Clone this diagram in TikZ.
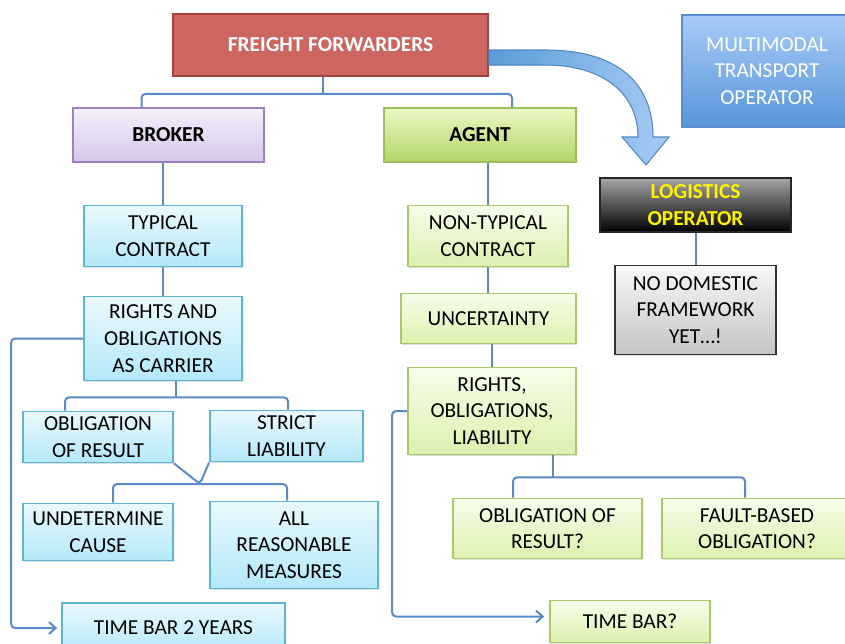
\documentclass[tikz,border=0pt]{standalone}
\usepackage{fontspec}
\setmainfont{Carlito}
\usetikzlibrary{arrows.meta,calc,shadows}

\definecolor{linkblue}{HTML}{5B8BC7}
\definecolor{ffred}{HTML}{CD6660}
\definecolor{ffredline}{HTML}{A5423E}
\definecolor{mtotop}{HTML}{A8CBF7}
\definecolor{mtobot}{HTML}{5895DA}
\definecolor{mtoline}{HTML}{5A8CCB}
\definecolor{brotop}{HTML}{F4F0FB}
\definecolor{brobot}{HTML}{D6C6EB}
\definecolor{broline}{HTML}{9C80C2}
\definecolor{agtop}{HTML}{EAF9C4}
\definecolor{agbot}{HTML}{B3D468}
\definecolor{agline}{HTML}{9DBE5C}
\definecolor{cytop}{HTML}{EAF9FD}
\definecolor{cybot}{HTML}{B3E8F8}
\definecolor{cyline}{HTML}{5BB6D3}
\definecolor{grtop}{HTML}{F7FDEA}
\definecolor{grbot}{HTML}{DCF1AE}
\definecolor{grline}{HTML}{A7C96C}
\definecolor{arrdark}{HTML}{5B9BD9}
\definecolor{arrlight}{HTML}{A6CBF4}

\begin{document}
\begin{tikzpicture}[x=0.75pt, y=-0.75pt,
  font=\fontsize{16}{20}\selectfont,
  link/.style={draw=linkblue, line width=1.5pt, rounded corners=3pt},
  tip/.style={-{Straight Barb[length=5pt,width=9pt]}},
  sz/.style 2 args={minimum width=#1*0.75pt, minimum height=#2*0.75pt},
  box/.style={line width=1.3pt, align=center, inner sep=2pt,
    drop shadow={shadow xshift=1pt, shadow yshift=-1pt, opacity=0.25}},
  redbox/.style={box, fill=ffred, draw=ffredline, text=white, font=\fontsize{16}{20}\selectfont\bfseries},
  bluebox/.style={box, top color=mtotop, bottom color=mtobot, draw=mtoline, text=white},
  purplebox/.style={box, top color=brotop, bottom color=brobot, draw=broline, font=\fontsize{16}{20}\selectfont\bfseries},
  agentbox/.style={box, top color=agtop, bottom color=agbot, draw=agline, font=\fontsize{16}{20}\selectfont\bfseries},
  cyanbox/.style={box, top color=cytop, bottom color=cybot, draw=cyline},
  greenbox/.style={box, top color=grtop, bottom color=grbot, draw=grline},
  blackbox/.style={box, top color=black!35, bottom color=black, draw=black!85, text=yellow, font=\fontsize{16}{20}\selectfont\bfseries},
  greybox/.style={box, top color=black!3, bottom color=black!23, draw=black!80}]
  \useasboundingbox (0,0) rectangle (845,643);

  % top row
  \node[redbox, sz={315}{62}] (ff) at (330.5,45) {FREIGHT FORWARDERS};
  \node[bluebox, sz={170}{112}] (mto) at (767,71) {MULTIMODAL\\TRANSPORT\\OPERATOR};
  \node[purplebox, sz={191}{54}] (broker) at (168.5,135) {BROKER};
  \node[agentbox, sz={192}{54}] (agent) at (480,135) {AGENT};

  % bent arrow to the logistics operator
  \fill[left color=arrdark, right color=arrlight, draw=arrdark!90!black, line width=0.8pt]
    ($(ff.east)+(0,5)$) -- (545,50) .. controls (620,50) and (653,85) .. (653,137)
    -- (669,137) -- (646,165) -- (622,137) -- (638,137)
    .. controls (638,95) and (605,65) .. (545,65) -- ($(ff.east)+(0,20)$) -- cycle;

  % logistics operator
  \node[blackbox, sz={191}{54}] (logop) at (695.5,205) {LOGISTICS\\OPERATOR};
  \node[greybox, sz={161}{89}] (nodom) at (695.5,310) {NO DOMESTIC\\FRAMEWORK\\YET…!};

  % broker branch
  \node[cyanbox, sz={158}{61}] (typical) at (163,236) {TYPICAL\\CONTRACT};
  \node[cyanbox, sz={158}{84}] (rightsb) at (163,338.5) {RIGHTS AND\\OBLIGATIONS\\AS CARRIER};
  \node[cyanbox, sz={150}{51}] (oor) at (98,437) {OBLIGATION\\OF RESULT};
  \node[cyanbox, sz={153}{51}] (strict) at (286.5,436) {STRICT\\LIABILITY};
  \node[cyanbox, sz={150}{57}] (undet) at (98,532) {UNDETERMINE\\CAUSE};
  \node[cyanbox, sz={168}{87}] (allreas) at (294,545) {ALL\\REASONABLE\\MEASURES};
  \node[cyanbox, sz={223}{50}] (timebar) at (173.5,628) {TIME BAR 2 YEARS};

  % agent branch
  \node[greenbox, sz={160}{61}] (nontyp) at (488,236) {NON-TYPICAL\\CONTRACT};
  \node[greenbox, sz={175}{50}] (uncert) at (488.5,318.5) {UNCERTAINTY};
  \node[greenbox, sz={168}{87}] (rightsa) at (492,411) {RIGHTS,\\OBLIGATIONS,\\LIABILITY};
  \node[greenbox, sz={189}{60}] (oorq) at (547.5,528.5) {OBLIGATION OF\\RESULT?};
  \node[greenbox, sz={190}{60}] (fault) at (757,528.5) {FAULT-BASED\\OBLIGATION?};
  \node[greenbox, sz={160}{42}] (timebarq) at (630,621.5) {TIME BAR?};

  % connectors, top
  \draw[link] ($(ff.south)+(-8,0)$) -- ++(0,17) coordinate (ffbar);
  \draw[link] ($(broker.north)+(-27,0)$) |- (ffbar) -| ($(agent.north)+(32,0)$);
  \draw[link] (typical.north |- broker.south) -- (typical.north);
  \draw[link] (nontyp.north |- agent.south) -- (nontyp.north);
  \draw[link] (logop.south) -- (nodom.north);

  % connectors, broker side
  \draw[link] (typical.south) -- (rightsb.north);
  \draw[link] ($(rightsb.south)+(13,0)$) -- ++(0,16) coordinate (rbbar);
  \draw[link] ($(oor.north)+(-33,0)$) |- (rbbar) -| ($(strict.north)+(1.5,0)$);
  \coordinate (merge) at (200,484);
  \draw[link] (oor.south east) -- (merge) -- (strict.south west);
  \draw[link] ($(undet.north)+(15,0)$) |- (merge) -| ($(allreas.north)+(-7,0)$);
  \draw[link, tip] (rightsb.west) -- ++(-72,0) |- ($(timebar.west)+(-4,0)$);

  % connectors, agent side
  \draw[link] (nontyp.south) -- (uncert.north -| nontyp.south);
  \draw[link] (rightsa.north |- uncert.south) -- (rightsa.north);
  \draw[link] ($(rightsa.south)+(61,0)$) -- ++(0,22) coordinate (rabar);
  \draw[link] ($(oorq.north)+(-34.5,0)$) |- (rabar) -| ($(fault.north)+(-12,0)$);
  \draw[link, tip] (rightsa.west) -- ++(-15,0) |- ($(timebarq.west)+(-5,-5)$);
\end{tikzpicture}
\end{document}
